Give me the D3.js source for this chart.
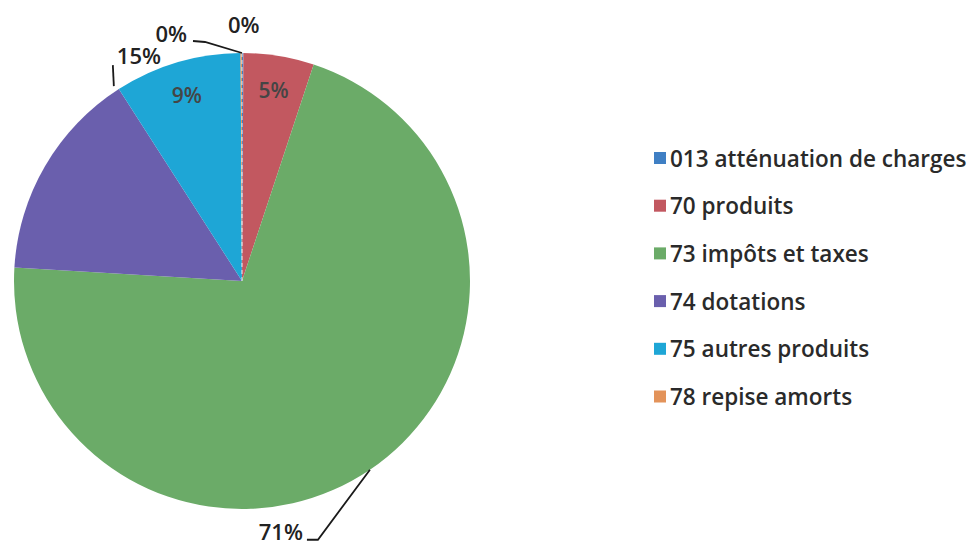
<!DOCTYPE html>
<html>
<head>
<meta charset="utf-8">
<script src="https://cdn.jsdelivr.net/npm/d3@7/dist/d3.min.js"></script>
<style>
  html, body { margin: 0; padding: 0; background: #ffffff; }
  svg { display: block; }
</style>
</head>
<body>
<svg id="chart" width="970" height="547"></svg>
<script>
// ---- data ----
const categories = [
  "013 atténuation de charges",
  "70 produits",
  "73 impôts et taxes",
  "74 dotations",
  "75 autres produits",
  "78 repise amorts"
];
const values = [0.1, 5, 71, 15, 9, 0.1];
const percentLabels = ["0%", "5%", "71%", "15%", "9%", "0%"];
const colors = ["#3f7fc4", "#c25860", "#6bab68", "#6a5fad", "#1ea6d6", "#e3935a"];

// ---- layout ----
const cx = 242, cy = 281, R = 228;
const svg = d3.select("#chart");

const pie = d3.pie().sort(null).value(d => d)(values);
const arc = d3.arc().innerRadius(0).outerRadius(R);

const g = svg.append("g").attr("transform", `translate(${cx},${cy})`);
g.selectAll("path.slice")
  .data(pie)
  .join("path")
  .attr("class", "slice")
  .attr("d", arc)
  .attr("fill", (d, i) => colors[i]);

// thin dashed white marker for the zero slice at the top
g.append("line")
  .attr("x1", 0).attr("y1", 0).attr("x2", 0).attr("y2", -R)
  .attr("stroke", "#ffffff").attr("stroke-width", 1.2)
  .attr("stroke-dasharray", "4,3").attr("opacity", 0.7);

const polar = (a, r) => [Math.sin(a) * r, -Math.cos(a) * r];
const mid = d => (d.startAngle + d.endAngle) / 2;

// label placement (offsets relative to a point on the slice's edge)
const placement = [
  { mode: "out", anchor: "start", at: [-55, -11], leader: [[0, 0], [-37, -11], [-49, -12]], anchorText: "end" },
  { mode: "in", frac: 0.85 },
  { mode: "out", anchor: "mid", at: [-67, 70], leader: [[0, 0], [-52, 70], [-63, 70]], anchorText: "end" },
  { mode: "out", anchor: "end", at: [-2, -25], leader: [[-5, -3], [-6, -24]], anchorText: "start" },
  { mode: "in", frac: 0.85 },
  { mode: "out", anchor: "end", at: [-14, -20], leader: null, anchorText: "start" }
];

const labelFont = "Open Sans, Lato, sans-serif";
pie.forEach((d, i) => {
  const p = placement[i];
  if (p.mode === "in") {
    const [x, y] = polar(mid(d), R * p.frac);
    g.append("text")
      .attr("x", x).attr("y", y)
      .attr("text-anchor", "middle").attr("dominant-baseline", "central")
      .attr("font-family", labelFont).attr("font-size", 21).attr("font-weight", 600)
      .attr("fill", "#454545")
      .text(percentLabels[i]);
  } else {
    const a = p.anchor === "start" ? d.startAngle : p.anchor === "end" ? d.endAngle : mid(d);
    const [ex, ey] = polar(a, R);
    if (p.leader) {
      const pts = p.leader.map(q => [ex + q[0], ey + q[1]]);
      g.append("path")
        .attr("d", d3.line()(pts))
        .attr("fill", "none").attr("stroke", "#1a1a1a").attr("stroke-width", 1.8);
    }
    g.append("text")
      .attr("x", ex + p.at[0]).attr("y", ey + p.at[1])
      .attr("text-anchor", p.anchorText)
      .attr("font-family", labelFont).attr("font-size", 22).attr("font-weight", 600)
      .attr("fill", "#222222")
      .text(percentLabels[i]);
  }
});

// ---- legend ----
const legendX = 654, legendY0 = 158, legendStep = 47.7;
const lg = svg.append("g");
categories.forEach((c, i) => {
  const y = legendY0 + i * legendStep;
  lg.append("rect")
    .attr("x", legendX).attr("y", y - 6).attr("width", 12).attr("height", 12)
    .attr("fill", colors[i]);
  lg.append("text")
    .attr("x", legendX + 16).attr("y", y)
    .attr("dominant-baseline", "central")
    .attr("font-family", labelFont).attr("font-size", 22.5).attr("font-weight", 600)
    .attr("fill", "#2a2a2a")
    .text(c);
});
</script>
</body>
</html>
